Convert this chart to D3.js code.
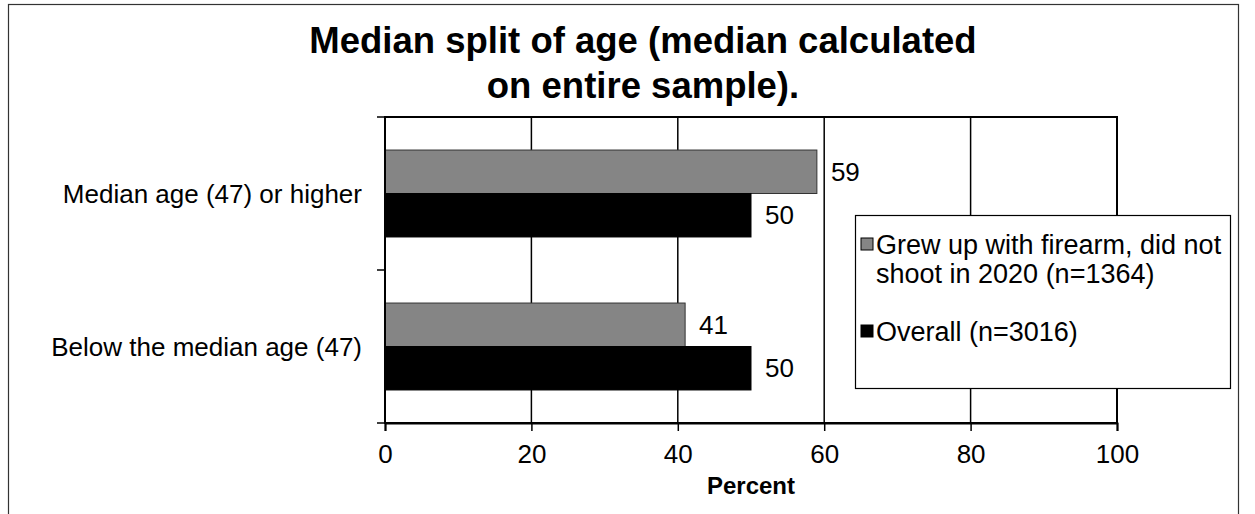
<!DOCTYPE html>
<html><head><meta charset="utf-8">
<script src="https://cdn.jsdelivr.net/npm/d3@7/dist/d3.min.js"></script>
<style>
html,body{margin:0;padding:0;background:#fff;}
svg{display:block;font-family:"Liberation Sans",Arial,sans-serif;}
</style></head>
<body>
<svg id="chart" width="1255" height="514"></svg>
<script>
const titleLines = ["Median split of age (median calculated", "on entire sample)."];
const categories = ["Median age (47) or higher", "Below the median age (47)"];
const seriesNames = ["Grew up with firearm, did not shoot in 2020 (n=1364)", "Overall (n=3016)"];
const legendLines = [["Grew up with firearm, did not", "shoot in 2020 (n=1364)"], ["Overall (n=3016)"]];
const grewUpValues = [59, 41];
const overallValues = [50, 50];
const xTicks = [0, 20, 40, 60, 80, 100];
const xTitle = "Percent";
const colors = ["#858585", "#000000"];

const svg = d3.select("#chart");
const plot = {left: 385, right: 1117, top: 117, bottom: 423};

// outer frame
svg.append("rect").attr("x", 8.5).attr("y", 4.5).attr("width", 1230).attr("height", 530)
  .attr("fill", "none").attr("stroke", "#333").attr("stroke-width", 1.2);

// title
svg.append("g").selectAll("text").data(titleLines).join("text")
  .attr("x", 643).attr("y", (d, i) => 53 + i * 44.5)
  .attr("text-anchor", "middle").attr("font-size", 36.5).attr("font-weight", "bold")
  .attr("fill", "#000").text(d => d);

const x = d3.scaleLinear().domain([0, 100]).range([plot.left, plot.right]);
const y = d3.scaleBand().domain(categories).range([plot.top, plot.bottom]).padding(0);
const ys = d3.scaleBand().domain([0, 1]).range([0, y.bandwidth()]).paddingInner(0).paddingOuter(0.76);

// gridlines
svg.append("g").selectAll("line").data(xTicks.filter(t => t > 0 && t < 100)).join("line")
  .attr("x1", d => x(d)).attr("x2", d => x(d)).attr("y1", plot.top).attr("y2", plot.bottom)
  .attr("stroke", "#000").attr("stroke-width", 1.5);

// plot border
svg.append("rect").attr("x", plot.left).attr("y", plot.top)
  .attr("width", plot.right - plot.left).attr("height", plot.bottom - plot.top)
  .attr("fill", "none").attr("stroke", "#000").attr("stroke-width", 2);

// bars
const seriesData = [grewUpValues, overallValues];
seriesData.forEach((vals, si) => {
  svg.append("g").selectAll("rect").data(vals).join("rect")
    .attr("x", x(0)).attr("y", (d, i) => y(categories[i]) + ys(si))
    .attr("width", d => x(d) - x(0)).attr("height", ys.bandwidth())
    .attr("fill", colors[si]).attr("stroke", si === 0 ? "#333" : "#000").attr("stroke-width", 1);
  svg.append("g").selectAll("text").data(vals).join("text")
    .attr("x", d => x(d) + 14).attr("y", (d, i) => y(categories[i]) + ys(si) + ys.bandwidth() / 2 + 9)
    .attr("font-size", 26).attr("fill", "#000").text(d => d);
});

// x axis
const xAxis = d3.axisBottom(x).tickValues(xTicks).tickSize(8).tickPadding(14).tickFormat(d3.format("d"));
const gx = svg.append("g").attr("transform", `translate(0,${plot.bottom})`).call(xAxis);
gx.select(".domain").attr("stroke", "#000").attr("stroke-width", 2);
gx.selectAll(".tick line").attr("stroke", "#000").attr("stroke-width", 1.5);
gx.selectAll(".tick text").attr("font-size", 26).attr("fill", "#000")
  .attr("font-family", "'Liberation Sans',Arial,sans-serif");

// y axis with ticks at band boundaries
const gy = svg.append("g").attr("transform", `translate(${plot.left},0)`);
gy.append("line").attr("x1", 0).attr("x2", 0).attr("y1", plot.top).attr("y2", plot.bottom)
  .attr("stroke", "#000").attr("stroke-width", 2);
const bounds = categories.map(c => y(c)).concat([plot.bottom]);
gy.selectAll("line.tk").data(bounds).join("line").attr("class", "tk")
  .attr("x1", -8).attr("x2", 0).attr("y1", d => d).attr("y2", d => d)
  .attr("stroke", "#000").attr("stroke-width", 1.5);
gy.selectAll("text").data(categories).join("text")
  .attr("x", -23).attr("y", d => y(d) + y.bandwidth() / 2 + 9)
  .attr("text-anchor", "end").attr("font-size", 26).attr("fill", "#000").text(d => d);

// x title
svg.append("text").attr("x", (plot.left + plot.right) / 2).attr("y", 494)
  .attr("text-anchor", "middle").attr("font-size", 24).attr("font-weight", "bold").text(xTitle);

// legend
const lg = svg.append("g");
lg.append("rect").attr("x", 855.5).attr("y", 215.5).attr("width", 375).attr("height", 173)
  .attr("fill", "#fff").attr("stroke", "#000").attr("stroke-width", 1.2);
const legendY = [254, 341];
seriesNames.forEach((name, i) => {
  lg.append("rect").attr("x", 861).attr("y", legendY[i] - 16).attr("width", 12).attr("height", 12)
    .attr("fill", colors[i]).attr("stroke", "#000").attr("stroke-width", 1);
  lg.append("text").attr("x", 876).attr("y", legendY[i]).attr("font-size", 27).attr("fill", "#000")
    .selectAll("tspan").data(legendLines[i]).join("tspan")
    .attr("x", 876).attr("dy", (d, j) => j === 0 ? 0 : 29).text(d => d);
});
</script>
</body></html>
